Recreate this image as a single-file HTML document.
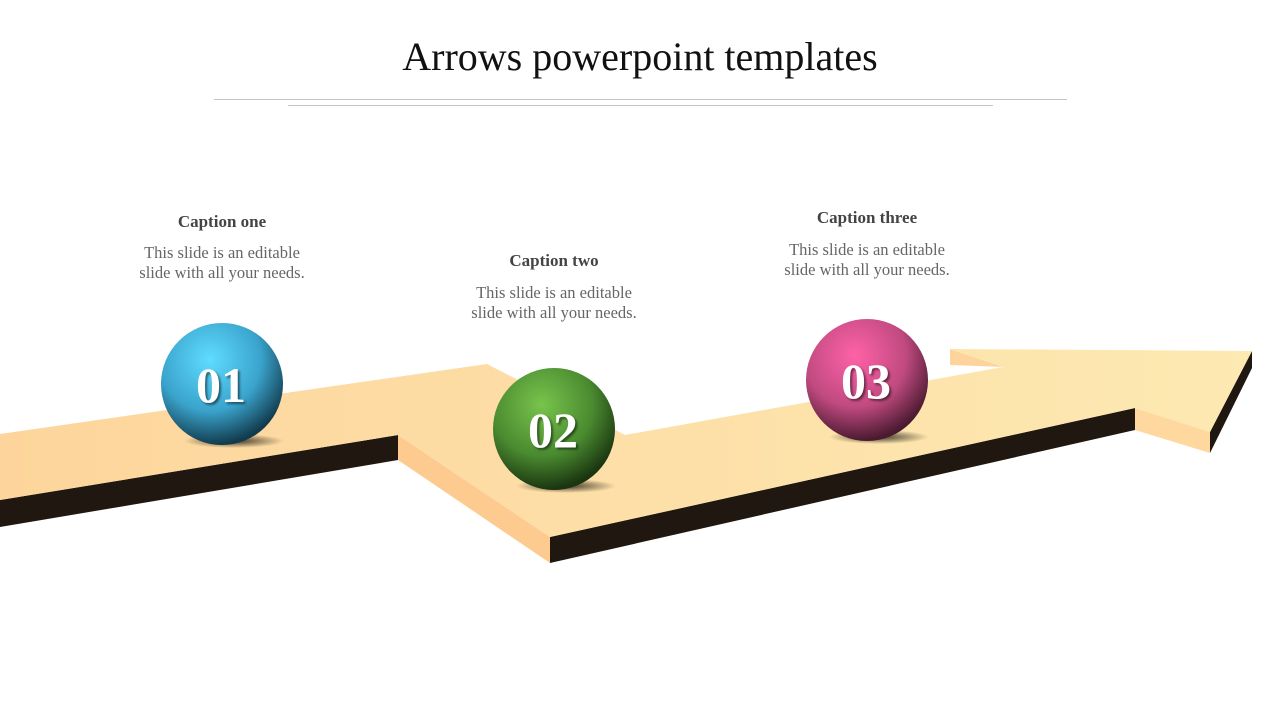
<!DOCTYPE html>
<html><head><meta charset="utf-8"><style>
body{margin:0;width:1280px;height:720px;background:#fff;overflow:hidden;font-family:"Liberation Serif",serif}
svg{position:absolute;left:0;top:0}
</style></head><body>
<svg width="1280" height="720" viewBox="0 0 1280 720">
<defs>
<linearGradient id="top" x1="0" y1="0" x2="1" y2="0">
<stop offset="0" stop-color="#fdd59c"/><stop offset="1" stop-color="#fde9b2"/></linearGradient>
<radialGradient id="b1" cx="0.4" cy="0.3" r="0.7"><stop offset="0" stop-color="#5fdcff"/><stop offset="0.6" stop-color="#3aa3cc"/><stop offset="1" stop-color="#123c4e"/></radialGradient>
<radialGradient id="b2" cx="0.4" cy="0.3" r="0.7"><stop offset="0" stop-color="#78c44c"/><stop offset="0.6" stop-color="#4a8a30"/><stop offset="1" stop-color="#1a3510"/></radialGradient>
<radialGradient id="b3" cx="0.4" cy="0.3" r="0.7"><stop offset="0" stop-color="#ff62a8"/><stop offset="0.6" stop-color="#c04a80"/><stop offset="1" stop-color="#4a1a30"/></radialGradient>
<radialGradient id="sh"><stop offset="0" stop-color="#000" stop-opacity="0.75"/><stop offset="1" stop-color="#000" stop-opacity="0"/></radialGradient>
</defs>
<text x="640" y="70" text-anchor="middle" font-size="40" fill="#111">Arrows powerpoint templates</text>
<line x1="214" y1="99.5" x2="1067" y2="99.5" stroke="#c4c4c4"/>
<line x1="288" y1="105.5" x2="993" y2="105.5" stroke="#c4c4c4"/>
<polygon points="0,500 398,435 398,460 0,527" fill="#201810"/>
<polygon points="398,435 550,537 550,563 398,460" fill="#fdca90"/>
<polygon points="550,537 1135,408 1135,430 550,563" fill="#201810"/>
<polygon points="1135,408 1210,432 1210,453 1135,430" fill="#fed89e"/>
<polygon points="1252,351 1210,432 1210,453 1252,368" fill="#201810"/>
<polygon points="950,349 1003,367 950,365" fill="#fdd59c"/>
<polygon points="0,434 487,364 625,435 1003,367 950,349 1252,351 1210,432 1135,408 550,537 398,435 0,500" fill="url(#top)"/>
<ellipse cx="234" cy="441" rx="50" ry="7" fill="url(#sh)"/>
<ellipse cx="566" cy="486" rx="50" ry="7" fill="url(#sh)"/>
<ellipse cx="879" cy="437" rx="50" ry="7" fill="url(#sh)"/>
<circle cx="222" cy="384" r="61" fill="url(#b1)"/>
<circle cx="554" cy="429" r="61" fill="url(#b2)"/>
<circle cx="867" cy="380" r="61" fill="url(#b3)"/>
<g font-weight="bold" font-size="50" fill="#fff" text-anchor="middle" style="text-shadow:2px 2px 2px rgba(0,0,0,.5)">
<text x="221" y="402">01</text><text x="553" y="447">02</text><text x="866" y="398">03</text>
</g>
<g text-anchor="middle" font-size="16.5">
<text x="222" y="227" font-weight="bold" font-size="17" fill="#444">Caption one</text>
<text x="222" y="258" fill="#666">This slide is an editable</text>
<text x="222" y="278" fill="#666">slide with all your needs.</text>
<text x="554" y="266" font-weight="bold" font-size="17" fill="#444">Caption two</text>
<text x="554" y="298" fill="#666">This slide is an editable</text>
<text x="554" y="318" fill="#666">slide with all your needs.</text>
<text x="867" y="223" font-weight="bold" font-size="17" fill="#444">Caption three</text>
<text x="867" y="255" fill="#666">This slide is an editable</text>
<text x="867" y="275" fill="#666">slide with all your needs.</text>
</g>
</svg>
</body></html>
